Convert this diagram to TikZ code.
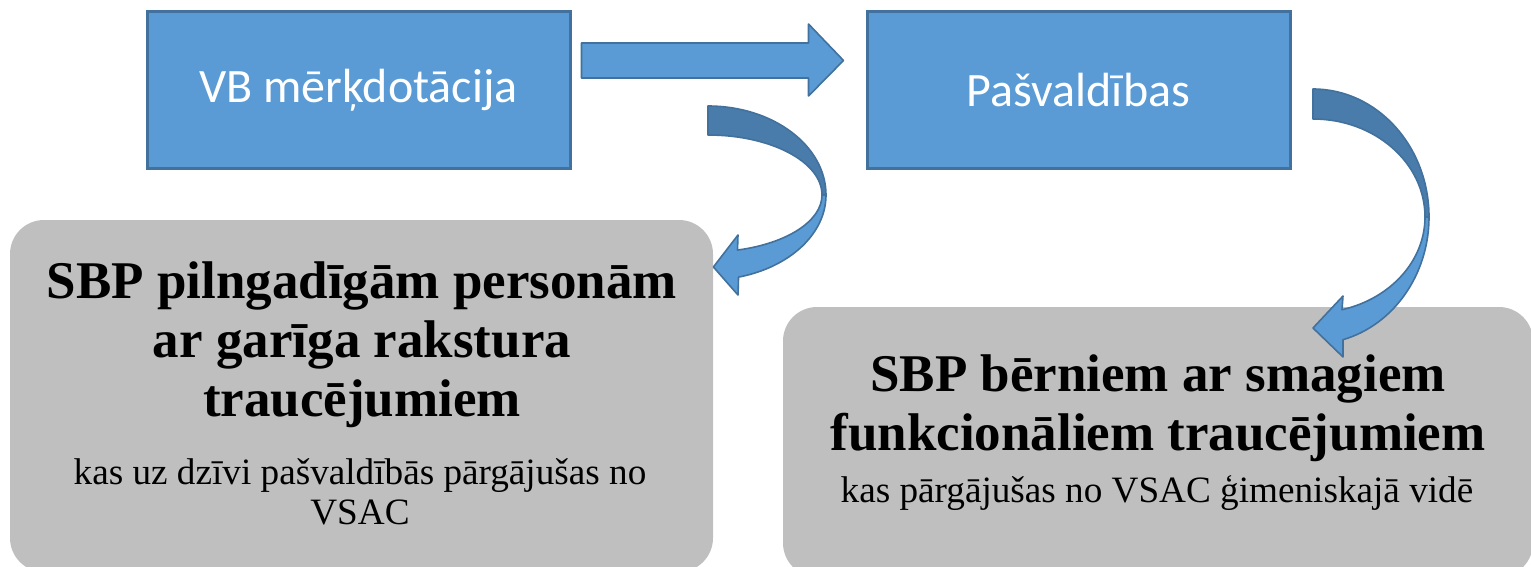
\documentclass[tikz,border=0pt]{standalone}
\usepackage{fontspec}
\setmainfont{Liberation Serif}
\newfontfamily\calfont{Carlito}
\usetikzlibrary{calc}
\definecolor{boxblue}{RGB}{91,155,213}
\definecolor{edgeblue}{RGB}{65,113,156}
\definecolor{backblue}{RGB}{73,124,170}
\definecolor{boxgrey}{RGB}{191,191,191}
\tikzset{
    bluebox/.style={rectangle, draw=edgeblue, line width=1.5pt, fill=boxblue,
        minimum width=211.5pt, minimum height=78pt, text=white,
        font=\calfont\fontsize{24}{28}\selectfont},
    greybox/.style={rectangle, rounded corners=17pt, fill=boxgrey},
    headtxt/.style={align=center, font=\fontsize{26.5}{29.5}\selectfont\bfseries},
    notetxt/.style={align=center, font=\fontsize{18.6}{20}\selectfont},
    frontface/.style={fill=boxblue, draw=edgeblue, line width=0.8pt, line join=round},
    backface/.style={fill=backblue, draw=edgeblue, line width=0.8pt, line join=round}
}
\begin{document}
\begin{tikzpicture}[x=0.5pt,y=0.5pt]
    \useasboundingbox (0,0) rectangle (1531,-567);
    % boxes
    \node[bluebox] (vb) at (358.5,-90) {VB mērķdotācija};
    \node[bluebox] (pasv) at (1078.5,-90) {Pašvaldības};
    \node[greybox, minimum width=351.5pt, minimum height=176pt] (adults) at (361.5,-396) {};
    \node[greybox, minimum width=375pt, minimum height=135pt] (kids) at (1158,-442) {};
    % texts
    \node[headtxt] (adultshead) at (362,-345) {SBP pilngadīgām personām\\ar garīga rakstura\\traucējumiem};
    \node[notetxt] (adultsnote) at (360,-492) {kas uz dzīvi pašvaldībās pārgājušas no\\VSAC};
    \node[headtxt] (kidshead) at (1158,-408) {SBP bērniem ar smagiem\\funkcionāliem traucējumiem};
    \node[notetxt] (kidsnote) at (1157,-493) {kas pārgājušas no VSAC ģimeniskajā vidē};
    % straight block arrow
    \coordinate (s1) at ($(vb.east)+(10,47)$);
    \coordinate (s2) at ($(pasv.west)+(-57,29.5)$);
    \draw[frontface] (s1) -- (s1 -| s2) -- ($(s2)+(0,36.5)$) -- ($(s2)+(35,0)$)
        -- ($(s2)+(0,-35.5)$) -- ($(s2)+(0,-17.5)$) -- ($(s1)+(0,-35)$) -- cycle;
    % curved arrows
    \coordinate (c1) at (708,-195);
    \coordinate (c2) at (1313,-217);
    \draw[backface] ([shift={(c1)}]90:118 and 89) arc[start angle=90, end angle=0, x radius=118, y radius=89]
        -- ([shift={(c1)}]0:114 and 60) arc[start angle=0, end angle=90, x radius=114, y radius=60] -- cycle;
    \draw[frontface] ([shift={(c1)}]0:118 and 85) arc[start angle=0, end angle=-75, x radius=118, y radius=85]
        -- (738,-295) -- (adults.east |- 0,-267) -- (738,-235)
        -- ([shift={(c1)}]-75:114 and 57) arc[start angle=-75, end angle=0, x radius=114, y radius=57] -- cycle;
    \draw[backface] ([shift={(c2)}]90:116 and 128) arc[start angle=90, end angle=0, x radius=116, y radius=128]
        -- ([shift={(c2)}]0:112 and 98) arc[start angle=0, end angle=90, x radius=112, y radius=98] -- cycle;
    \draw[frontface] ([shift={(c2)}]0:116 and 127) arc[start angle=0, end angle=-75, x radius=116, y radius=127]
        -- (1343,-357) -- (1313,-328) -- (1343,-296)
        -- ([shift={(c2)}]-75:112 and 96) arc[start angle=-75, end angle=0, x radius=112, y radius=96] -- cycle;
\end{tikzpicture}
\end{document}
